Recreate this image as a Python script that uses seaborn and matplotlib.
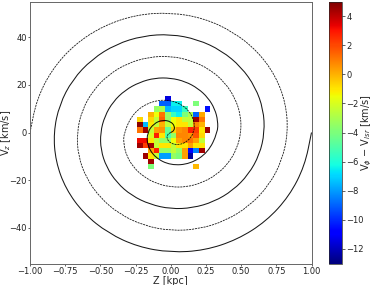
import numpy as np
import matplotlib
matplotlib.use("Agg")
import matplotlib.pyplot as plt
from matplotlib.path import Path
from matplotlib.patches import PathPatch
import seaborn as sns

sns.set_style("ticks")
plt.rcParams["font.family"] = "DejaVu Sans"

# spiral arms
solid_z = [1.0, .952, .842, .678, .472, .241, 0, -.234, -.444, -.619, -.746, -.818,
           -.833, -.791, -.698, -.56, -.389, -.198, 0, .191, .361, .501, .601, .658,
           .667, .631, .553, .442, .306, .155, 0, -.147, -.278, -.383, -.457, -.497,
           -.5, -.469, -.409, -.324, -.222, -.112, 0, .104, .194, .265, .313, .335,
           .333, .265, .139, 0, -.111, -.168, -.167, -.12, -.056, 0, .028, .024, 0]
solid_v = [0, -14.0, -26.7, -37.3, -45.0, -49.5, -50.4, -48.0, -42.3, -34.0, -23.7, -12.1,
           0, 11.7, 22.2, 30.8, 37.1, 40.6, 41.3, 39.1, 34.4, 27.5, 19.1, 9.7,
           0, -9.3, -17.6, -24.3, -29.1, -31.7, -32.1, -30.2, -26.5, -21.1, -14.5, -7.3,
           0, 6.9, 13.0, 17.8, 21.1, 22.9, 22.9, 21.4, 18.5, 14.6, 9.9, 4.9,
           0, -8.4, -13.2, -13.8, -10.6, -5.3, 0, 3.8, 5.3, 4.6, 2.7, .8, 0]
dash_z = [-1.0, -.952, -.842, -.678, -.472, -.241, 0, .234, .444, .619, .746, .818,
          .833, .791, .698, .56, .389, .198, 0, -.191, -.361, -.501, -.601, -.658,
          -.667, -.631, -.553, -.442, -.306, -.155, 0, .147, .278, .383, .457, .497,
          .5, .469, .409, .324, .222, .112, 0, -.104, -.194, -.265, -.313, -.335,
          -.333, -.265, -.139, 0, .111, .168, .167, .12, .056, 0, -.028, -.024, 0]
dash_v = [0, 14.0, 26.7, 37.3, 45.0, 49.5, 50.4, 48.0, 42.3, 34.0, 23.7, 12.1,
          0, -11.7, -22.2, -30.8, -37.1, -40.6, -41.3, -39.1, -34.4, -27.5, -19.1, -9.7,
          0, 9.3, 17.6, 24.3, 29.1, 31.7, 32.1, 30.2, 26.5, 21.1, 14.5, 7.3,
          0, -6.9, -13.0, -17.8, -21.1, -22.9, -22.9, -21.4, -18.5, -14.6, -9.9, -4.9,
          0, 8.4, 13.2, 13.8, 10.6, 5.3, 0, -3.8, -5.3, -4.6, -2.7, -.8, 0]

# binned map, rows from top (high Vz) to bottom
n = np.nan
cells = [
    [n, n, n, n, n, -11.5, n, n, n, n, n, n, n],
    [n, n, n, n, -9, -9, -6.5, -6.5, n, n, -4, n, n],
    [n, n, n, -3.5, -3, -7.5, -7, -7, -5.5, n, n, n, -10.5],
    [n, n, 0, -1.5, 1.2, -3.5, -5.5, -6.5, -4, -3, -9, .2, n],
    [-.7, n, -.7, -2.5, 1.5, -3.5, -1.5, -1, -2.5, -2.5, 4.5, 1.2, n],
    [4.8, -7.5, -1, -2.5, 0, -2.5, -1.5, -1, -1, -2.5, .8, 0, n],
    [1.2, 4.5, -2.5, .3, .5, -4.5, -.7, .5, .8, 2.8, 2.2, -1, 4.5],
    [n, n, -2, 2.8, -1, -5, -3.5, .8, .8, .5, 1.8, -.7, n],
    [3.2, 3.2, -1, -2.5, -3.5, -3.5, -1.5, .3, .8, 1.2, .3, -2.5, n],
    [4.5, 2.2, 4.5, -2.5, -1, -1, -2.5, -1, -1, .3, -1, -1, n],
    [n, n, .3, 2.8, -3.5, -3.5, -2.5, -3.5, .3, -11, -8.5, 4.5, n],
    [n, 4.5, -1, -2.5, -8, -8, -3.5, -4, .3, -12.5, n, n, n],
    [n, n, 4.5, n, n, n, n, n, n, n, n, n, n],
    [n, n, -4, n, n, n, n, n, n, n, -.2, n, n],
]
z_ticks = [-1, -.75, -.5, -.25, 0, .25, .5, .75, 1]
z_labels = ["\u22121.00", "\u22120.75", "\u22120.50", "\u22120.25", "0.00", "0.25", "0.50", "0.75", "1.00"]
v_ticks = [-40, -20, 0, 20, 40]
cb_ticks = [-12, -10, -8, -6, -4, -2, 0, 2, 4]

fig = plt.figure(figsize=(3.74, 2.85), dpi=100)
box = [30 / 374, 1 - 263.5 / 285, 281.5 / 374, 262 / 285]
hm = fig.add_axes(box)
cax = fig.add_axes([329 / 374, 1 - 263.5 / 285, 13 / 374, 262 / 285])

# heatmap sits in cell-index space, window set so the bins land at Z -0.24..0.28, Vz +-15.4
sns.heatmap(np.array(cells, dtype=float), cmap="jet", vmin=-13, vmax=5, ax=hm, cbar_ax=cax,
            xticklabels=False, yticklabels=False)
hm.set_xlim(-19, 31)
hm.set_ylim(32, -18)

ax = fig.add_axes(box, facecolor="none")


def smooth_arm(zs, vs, **kw):
    # quadratic segments through the read points so the arm is not a polygon
    pts = np.column_stack([zs, vs])
    mids = (pts[:-1] + pts[1:]) / 2
    verts = [pts[0], mids[0]]
    codes = [Path.MOVETO, Path.LINETO]
    for p, m in zip(pts[1:-1], mids[1:]):
        verts += [p, m]
        codes += [Path.CURVE3, Path.CURVE3]
    verts.append(pts[-1])
    codes.append(Path.LINETO)
    ax.add_patch(PathPatch(Path(verts, codes), fill=False, edgecolor="k", **kw))


smooth_arm(solid_z, solid_v, lw=0.75, alpha=0.9)
smooth_arm(dash_z, dash_v, lw=0.6, alpha=0.9, linestyle=(0, (2.5, 1)))

ax.set_xlim(-1, 1)
ax.set_ylim(-55, 55)
ax.set_xticks(z_ticks)
ax.set_xticklabels(z_labels)
ax.set_yticks(v_ticks)
ax.tick_params(labelsize=6, length=1.5, width=0.5, pad=0.8, colors="#222222")
ax.set_xlabel("Z [kpc]", fontsize=7, va="center")
ax.xaxis.set_label_coords(0.5, -17.5 / 262)
ax.set_ylabel(r"V$_z$ [km/s]", fontsize=7, va="center")
ax.yaxis.set_label_coords(-24 / 281.5, 0.5)
for s in ax.spines.values():
    s.set_linewidth(0.7)
    s.set_color("#666666")

cb = hm.collections[0].colorbar
cb.set_ticks(cb_ticks)
cb.ax.tick_params(labelsize=6, length=2, width=0.5, pad=1, colors="#222222")
cb.outline.set_visible(True)
cb.outline.set_linewidth(0.5)
cb.set_label(r"V$_\phi$ $-$ V$_{lsr}$ [km/s]", fontsize=7, va="center")
cb.ax.yaxis.set_label_coords(38 / 13, 0.5)

fig.savefig("out.png", dpi=100)
